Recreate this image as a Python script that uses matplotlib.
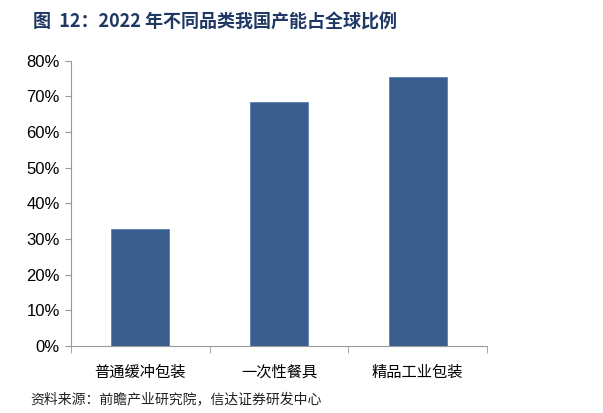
import matplotlib
matplotlib.use("Agg")
import matplotlib.pyplot as plt
from matplotlib.ticker import FuncFormatter, FixedLocator

plt.rcParams['font.family'] = ['Noto Sans CJK SC', 'DejaVu Sans']

categories = ["普通缓冲包装", "一次性餐具", "精品工业包装"]
values = [32.8, 68.4, 75.4]
yticks = [0, 10, 20, 30, 40, 50, 60, 70, 80]

fig = plt.figure(figsize=(6.03, 4.13), dpi=100)
ax = fig.add_axes([0.1177, 0.1622, 0.69, 0.691])

x = list(range(len(categories)))
ax.bar(x, values, width=0.42, color="#3A5F8F", edgecolor="#5A7FAF", linewidth=0.6, zorder=2)

ax.set_xlim(-0.5, len(categories) - 0.5)
ax.set_ylim(0, 80)
ax.set_yticks(yticks)
ax.yaxis.set_major_formatter(FuncFormatter(lambda v, p: f"{v:.0f}%"))

ax.set_xticks(x)
ax.set_xticklabels(categories, fontsize=11)
ax.tick_params(axis='x', which='major', length=0, pad=13)
ax.xaxis.set_minor_locator(FixedLocator([-0.5, 0.5, 1.5, 2.5]))
ax.tick_params(axis='x', which='minor', length=5, color="#999999", direction='out')
ax.tick_params(axis='y', length=4, color="#999999", pad=4)
for lab in ax.get_yticklabels():
    lab.set_fontfamily(['Liberation Sans', 'DejaVu Sans'])
    lab.set_fontsize(12)

for s in ['top', 'right']:
    ax.spines[s].set_visible(False)
for s in ['left', 'bottom']:
    ax.spines[s].set_color("#999999")
    ax.spines[s].set_linewidth(0.8)

fig.text(0.055, 0.947, "图  12：2022 年不同品类我国产能占全球比例", fontsize=13,
         fontweight='bold', color="#1F3864", va='center', ha='left')
fig.text(0.05, 0.033, "资料来源：前瞻产业研究院，信达证券研发中心", fontsize=10,
         color="#222222", va='center', ha='left', style='italic')

fig.savefig("out.png", dpi=100)
